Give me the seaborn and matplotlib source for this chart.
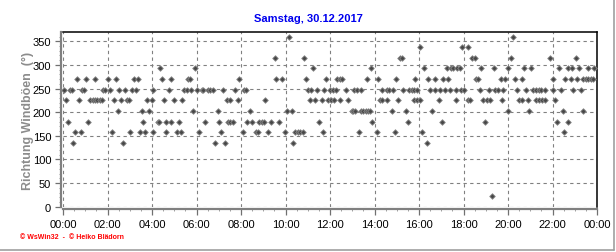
import matplotlib
matplotlib.use("Agg")
import numpy as np
import pandas as pd
import seaborn as sns
import matplotlib.pyplot as plt
from matplotlib.ticker import MultipleLocator
from matplotlib.lines import Line2D

# ---- data: minutes after midnight for each wind-gust direction (degrees) ----
t_022 = [1156]
t_135 = [28, 163, 410, 438, 621, 981]
t_157 = [33, 49, 133, 182, 207, 221, 244, 278, 308, 317, 368, 426, 485, 520, 525,
         553, 599, 626, 633, 639, 646, 702, 799, 846, 895, 967, 1352]
t_180 = [14, 68, 217, 255, 260, 277, 292, 313, 383, 421, 444, 450, 459, 495, 509,
         529, 536, 543, 561, 583, 691, 834, 930, 1021, 1138, 1333, 1361]
t_202 = [149, 214, 233, 351, 417, 504, 603, 617, 779, 783, 787, 803, 810, 816, 823,
         828, 886, 925, 994, 1199, 1257, 1349, 1403]
t_225 = [9, 44, 74, 80, 86, 92, 99, 105, 138, 157, 173, 178, 227, 239, 272, 300, 321,
         443, 450, 473, 546, 666, 680, 698, 714, 723, 732, 747, 769, 855, 859, 873,
         904, 947, 954, 963, 1014, 1059, 1091, 1097, 1132, 1143, 1152, 1183, 1230,
         1237, 1253, 1276, 1284, 1291, 1300, 1327]
t_247 = [3, 20, 25, 52, 57, 109, 113, 127, 151, 168, 186, 198, 244, 287, 327, 334, 346,
         361, 374, 378, 390, 396, 404, 432, 465, 487, 493, 662, 668, 686, 704, 720, 729,
         736, 763, 785, 792, 803, 859, 873, 880, 891, 918, 934, 940, 947, 954, 990,
         1003, 1017, 1030, 1044, 1059, 1073, 1082, 1124, 1149, 1165, 1172, 1187, 1224,
         1249, 1268, 1276, 1284, 1289, 1300, 1322, 1343, 1376, 1397]
t_270 = [39, 63, 87, 121, 144, 191, 201, 268, 292, 337, 342, 475, 574, 591, 656, 710,
         739, 746, 753, 821, 850, 898, 950, 985, 1003, 1026, 1039, 1113, 1118, 1181,
         1192, 1219, 1237, 1321, 1354, 1370, 1386, 1403, 1410, 1417, 1424, 1428]
t_292 = [262, 357, 675, 831, 974, 1035, 1046, 1053, 1062, 1071, 1127, 1163, 1201,
         1244, 1262, 1338, 1363, 1373, 1391, 1417, 1433]
t_315 = [572, 651, 909, 914, 1104, 1111, 1208, 1313, 1383]
t_337 = [963, 1075, 1091]
t_360 = [610, 1213]

directions = [22.5, 135, 157.5, 180, 202.5, 225, 247.5, 270, 292.5, 315, 337.5, 360]
time_groups = [t_022, t_135, t_157, t_180, t_202, t_225, t_247, t_270, t_292,
               t_315, t_337, t_360]

x_tick_labels = ["00:00", "02:00", "04:00", "06:00", "08:00", "10:00", "12:00",
                 "14:00", "16:00", "18:00", "20:00", "22:00", "00:00"]
y_ticks = [0, 50, 100, 150, 200, 250, 300, 350]

title_text = "Samstag, 30.12.2017"
y_label = "Richtung Windböen  (°)"
footer = "© WsWin32  -  © Heiko Blädorn"

rows = []
for d, ts in zip(directions, time_groups):
    for t in ts:
        rows.append({"minute": t, "direction": d})
df = pd.DataFrame(rows)

# ---- style ----
sns.set_style("white")
plt.rcParams["font.family"] = ["Liberation Sans", "DejaVu Sans"]

W, H = 616, 253
fig = plt.figure(figsize=(W / 100, H / 100), dpi=100)
fig.patch.set_facecolor("white")
left, right, top, bottom = 63, 597, 33.3, 207.7
ax = fig.add_axes([left / W, 1 - bottom / H, (right - left) / W, (bottom - top) / H])
ax.set_facecolor("white")

sns.scatterplot(data=df, x="minute", y="direction", marker="D", s=8,
                color="#474747", edgecolor="#8a8a8a", linewidth=0.6,
                legend=False, ax=ax, zorder=3, clip_on=False)

ax.set_xlim(0, 1440)
ax.set_ylim(0, 369)
ax.set_xticks(list(range(0, 1441, 120)))
ax.set_xticklabels(x_tick_labels)
ax.xaxis.set_minor_locator(MultipleLocator(30))
ax.set_yticks(y_ticks)
ax.yaxis.set_minor_locator(MultipleLocator(10))

ax.grid(True, which="major", linestyle=(0, (3, 3)), color="#808080", linewidth=0.8)
ax.set_axisbelow(True)

for s in ["left", "bottom"]:
    ax.spines[s].set_color("#808080")
    ax.spines[s].set_linewidth(1.6)
    ax.spines[s].set_position(("outward", 1.5))
for s in ["top", "right"]:
    ax.spines[s].set_color("black")
    ax.spines[s].set_linewidth(1.1)

ax.tick_params(axis="both", which="major", direction="out", length=4, width=0.9,
               color="#707070", labelsize=8, labelcolor="black", pad=3)
ax.tick_params(axis="both", which="minor", direction="out", length=1.5, width=0.6,
               color="#909090")
ax.tick_params(axis="x", which="both", bottom=True)
ax.tick_params(axis="y", which="both", left=True)

ax.set_xlabel("")
ax.set_ylabel(y_label, color="#8c8c8c", fontweight="bold", fontsize=9)
ax.yaxis.set_label_coords((34 - left) / (right - left), 0.5)

fig.text(0.5, 1 - 18.5 / H, title_text, color="#0000ee", ha="center", va="center",
         fontsize=8, fontweight="bold")
fig.text(20 / W, 1 - 238 / H, footer, color="#ff0000", ha="left", va="center",
         fontsize=5, fontweight="bold")

# frame lines at right and bottom of the image
fig.add_artist(Line2D([0, 614 / W], [1 - 251 / H, 1 - 251 / H],
                      transform=fig.transFigure, color="#a0a0a0", linewidth=1.2))
fig.add_artist(Line2D([614 / W, 614 / W], [1 - 251 / H, 1],
                      transform=fig.transFigure, color="#a0a0a0", linewidth=1.2))

fig.savefig("out.png", dpi=100, facecolor="white")
